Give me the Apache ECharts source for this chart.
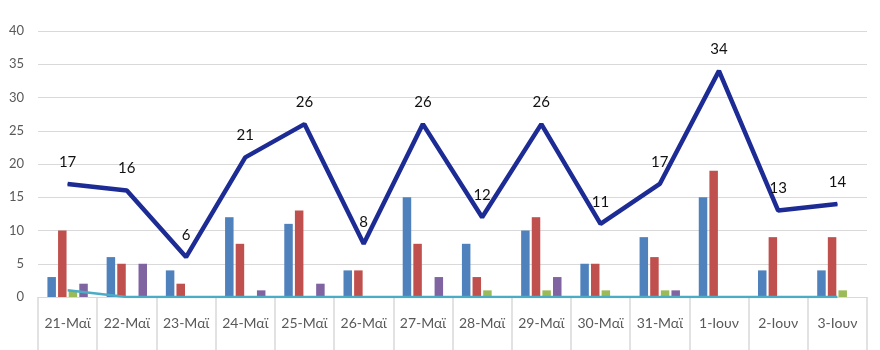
<!DOCTYPE html>
<html>
<head>
<meta charset="utf-8">
<script src="https://cdn.jsdelivr.net/npm/echarts@6/dist/echarts.min.js"></script>
<style>html,body{margin:0;padding:0;background:#fff;}#c{width:880px;height:350px;}</style>
</head>
<body>
<div id="c"></div>
<script>
const categories = ['21-Μαϊ','22-Μαϊ','23-Μαϊ','24-Μαϊ','25-Μαϊ','26-Μαϊ','27-Μαϊ','28-Μαϊ','29-Μαϊ','30-Μαϊ','31-Μαϊ','1-Ιουν','2-Ιουν','3-Ιουν'];
const blueVals   = [3, 6, 4, 12, 11, 4, 15, 8, 10, 5, 9, 15, 4, 4];
const redVals    = [10, 5, 2, 8, 13, 4, 8, 3, 12, 5, 6, 19, 9, 9];
const greenVals  = [1, 0, 0, 0, 0, 0, 0, 1, 1, 1, 1, 0, 0, 1];
const purpleVals = [2, 5, 0, 1, 2, 0, 3, 0, 3, 0, 1, 0, 0, 0];
const cyanVals   = [1, 0, 0, 0, 0, 0, 0, 0, 0, 0, 0, 0, 0, 0];
const totalVals  = [17, 16, 6, 21, 26, 8, 26, 12, 26, 11, 17, 34, 13, 14];
const yTicks = {min: 0, max: 40, interval: 5};

const chart = echarts.init(document.getElementById('c'), null, {renderer: 'canvas'});
const barBase = {type: 'bar', barWidth: 8.5, barGap: '25%'};
chart.setOption({
  animation: false,
  backgroundColor: '#ffffff',
  grid: {left: 38, right: 13, top: 31, bottom: 53},
  xAxis: {
    type: 'category',
    data: categories,
    boundaryGap: true,
    axisLine: {show: true, lineStyle: {color: '#d9d9d9', width: 1}},
    axisTick: {show: true, interval: 0, length: 56, lineStyle: {color: '#d9d9d9', width: 1.5}},
    axisLabel: {interval: 0, margin: 19, fontSize: 14, color: '#595959', fontFamily: 'Lato, "Open Sans", sans-serif'}
  },
  yAxis: {
    type: 'value',
    min: yTicks.min, max: yTicks.max, interval: yTicks.interval,
    axisLine: {show: false},
    axisTick: {show: false},
    axisLabel: {fontSize: 13, color: '#595959', margin: 14, fontFamily: 'Lato, "Open Sans", sans-serif'},
    splitLine: {lineStyle: {color: '#d9d9d9', width: 1.2}}
  },
  series: [
    Object.assign({}, barBase, {name: 'A', data: blueVals, itemStyle: {color: '#4f81bd'}}),
    Object.assign({}, barBase, {name: 'B', data: redVals, itemStyle: {color: '#c0504d'}}),
    Object.assign({}, barBase, {name: 'C', data: greenVals, itemStyle: {color: '#9bbb59'}}),
    Object.assign({}, barBase, {name: 'D', data: purpleVals, itemStyle: {color: '#8064a2'}}),
    {type: 'line', name: 'E', data: cyanVals, symbol: 'none', lineStyle: {color: '#4bacc6', width: 2.5}, itemStyle: {color: '#4bacc6'}, z: 3},
    {type: 'line', name: 'Total', data: totalVals, symbol: 'circle', symbolSize: 1, showSymbol: true,
     lineStyle: {color: '#1c2c94', width: 4.5}, itemStyle: {color: '#1c2c94'}, z: 4,
     label: {show: true, position: 'top', distance: 14, fontSize: 15, color: '#111', fontFamily: 'Lato, "Open Sans", sans-serif'}}
  ]
});
</script>
</body>
</html>
